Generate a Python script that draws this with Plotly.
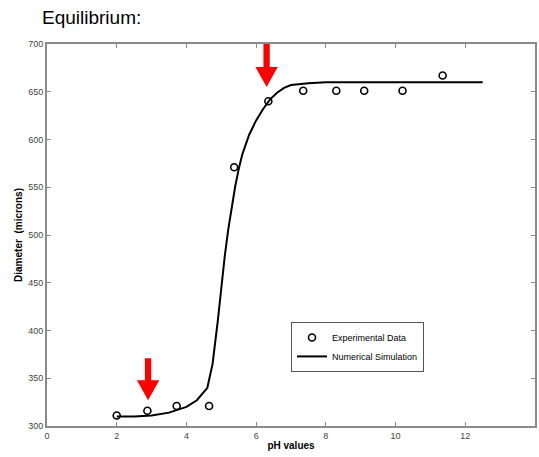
import plotly.graph_objects as go

# Experimental data
exp_ph = [2.0, 2.88, 3.72, 4.65, 5.37, 6.35, 7.35, 8.3, 9.1, 10.2, 11.35]
exp_diam = [311, 316, 321, 321, 571, 640, 651, 651, 651, 651, 667]

# Numerical simulation
sim_ph = [2.0, 2.5, 3.0, 3.5, 4.0, 4.3, 4.6, 4.75, 4.9, 5.0, 5.1, 5.2, 5.3, 5.4,
          5.5, 5.6, 5.8, 6.0, 6.2, 6.4, 6.6, 6.8, 7.0, 7.5, 8.0, 9.0, 10.0, 11.0, 12.0, 12.5]
sim_diam = [310, 310, 311, 314, 320, 327, 340, 365, 410, 445, 478, 506, 530, 551,
            569, 584, 605, 620, 632, 642, 649, 654, 657, 659, 660, 660, 660, 660, 660, 660]

x_ticks = [0, 2, 4, 6, 8, 10, 12, 14]
y_ticks = [300, 350, 400, 450, 500, 550, 600, 650, 700]

# red arrows: (x, top, tip)
arrows = [(2.9, 371, 327), (6.3, 700, 655)]

fig = go.Figure()
fig.add_trace(go.Scatter(x=exp_ph, y=exp_diam, mode="markers", name="Experimental Data",
                         marker=dict(symbol="circle-open", size=7, color="black",
                                     line=dict(width=1.6, color="black"))))
fig.add_trace(go.Scatter(x=sim_ph, y=sim_diam, mode="lines", name="Numerical Simulation",
                         line=dict(color="black", width=2)))

shapes = []
for ax, top, tip in arrows:
    sw = 0.09   # half shaft width in pH units
    hw = 0.32   # half head width
    hh = 21     # head height in microns
    path = (f"M {ax-sw},{top} L {ax+sw},{top} L {ax+sw},{tip+hh} L {ax+hw},{tip+hh} "
            f"L {ax},{tip} L {ax-hw},{tip+hh} L {ax-sw},{tip+hh} Z")
    shapes.append(dict(type="path", path=path, xref="x", yref="y",
                       fillcolor="#ff0000", line=dict(width=0)))

axis_common = dict(showgrid=False, zeroline=False, showline=True, linecolor="#8a8a8a",
                   linewidth=2, mirror="ticks", ticks="inside", ticklen=4,
                   tickcolor="#8a8a8a", tickwidth=1,
                   tickfont=dict(family="Liberation Sans, Arial", size=9, color="#444"))

fig.update_layout(
    width=539, height=457,
    margin=dict(l=47, r=2, t=44, b=31),
    paper_bgcolor="white", plot_bgcolor="white",
    shapes=shapes,
    xaxis=dict(range=[0, 14], tickvals=x_ticks,
               title=dict(text="<b>pH values</b>", standoff=2,
                          font=dict(family="Liberation Sans, Arial", size=10, color="black")),
               **axis_common),
    yaxis=dict(range=[300, 700], tickvals=y_ticks,
               title=dict(text="<b>Diameter  (microns)</b>", standoff=4,
                          font=dict(family="Liberation Sans, Arial", size=10, color="black")),
               **axis_common),
    legend=dict(x=0.5, y=0.207, xanchor="left", yanchor="middle",
                bordercolor="#555", borderwidth=1, bgcolor="white",
                font=dict(family="Liberation Sans, Arial", size=9, color="black"),
                tracegroupgap=0, itemwidth=30),
    showlegend=True,
    annotations=[dict(text="Equilibrium:", xref="paper", yref="paper",
                      x=-0.015, y=1.0, yshift=27, xanchor="left", yanchor="middle",
                      showarrow=False,
                      font=dict(family="Liberation Sans, Arial", size=19, color="black"))],
)

fig.write_html("out.html")
